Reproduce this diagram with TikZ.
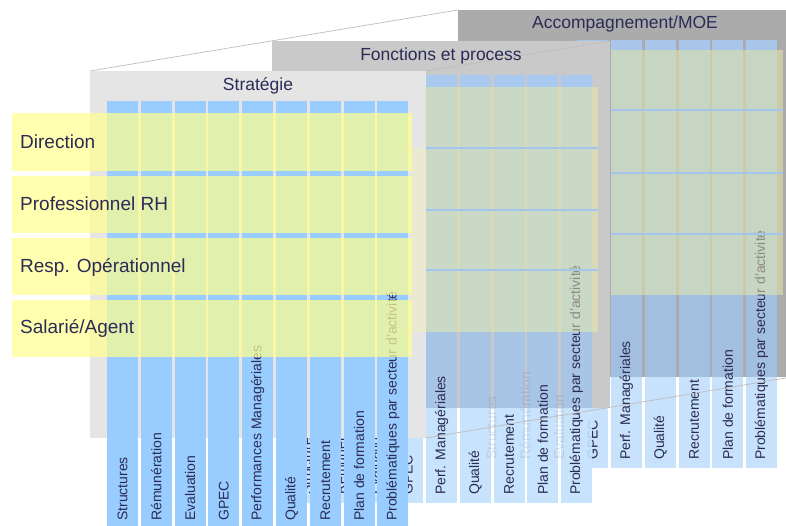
\documentclass[tikz,border=0pt]{standalone}
\usepackage{fontspec}
\setmainfont{Liberation Sans}
\definecolor{ink}{HTML}{2B2B55}
\definecolor{backgray}{HTML}{ABABAB}
\definecolor{bhead}{HTML}{A8C6EA}
\definecolor{bmid}{HTML}{A3BFE0}
\definecolor{blow}{HTML}{C8E2FB}
\definecolor{midgray}{HTML}{C9C9C9}
\definecolor{mhead}{HTML}{A9C9EE}
\definecolor{mmid}{HTML}{A9C5E6}
\definecolor{mlow}{HTML}{C8E3FC}
\definecolor{frontgray}{HTML}{E5E5E5}
\definecolor{fcol}{HTML}{99CCFF}
\definecolor{rowyellow}{HTML}{FFFF90}
\definecolor{dimyellow}{HTML}{ECECA8}
\definecolor{sepblue}{HTML}{A4C6EE}
\definecolor{beige}{HTML}{EBE9CF}
\definecolor{linegray}{HTML}{BDBDBD}
\begin{document}
\begin{tikzpicture}[x=1pt,y=-1pt,
  paneltitle/.style={inner sep=0pt,text=ink,font=\fontsize{17.5}{20}\selectfont},
  rowlabel/.style={anchor=west,inner sep=0pt,text=ink,font=\fontsize{19}{22}\selectfont},
  collabel/.style={rotate=90,anchor=west,inner sep=0pt,text=ink,font=\fontsize{14}{16}\selectfont},
  frontrow/.style={fill=rowyellow,fill opacity=0.72},
  backrow/.style={fill=dimyellow,fill opacity=0.5},
  sepline/.style={draw=sepblue,line width=1.5pt},
  persp/.style={draw=linegray,line width=0.7pt}]
\useasboundingbox (0,0) rectangle (786,526);
\clip (0,0) rectangle (786,526);

\coordinate (fTL) at (90,71);
\coordinate (bTL) at (458,10);
\coordinate (fTR) at (426,71);
\coordinate (mTR) at (610,41);
\coordinate (fBR) at (426,438);
\coordinate (bBR) at (786,378);

\draw[persp] (fTL) -- (bTL);

% ---------------- back panel: Accompagnement/MOE
\fill[backgray] (458,10) rectangle (800,377);
\node[paneltitle] (tB) at (625,24) {Accompagnement/MOE};
\foreach \i/\t in {3/GPEC,4/Perf. Managériales,5/Qualité,6/Recrutement,7/Plan de formation,8/Problématiques par secteur d'activité}{
  \pgfmathsetmacro\x{476+33.75*\i}
  \fill[bhead] (\x,40) rectangle (\x+31,50);
  \fill[bmid] (\x,50) rectangle (\x+31,377);
  \fill[blow] (\x,377) rectangle (\x+31,468);
  \node[collabel] (bl\i) at (\x+15.5,460) {\t};
}
\fill[backrow] (611,50) rectangle (783,295);
\foreach \y in {110,173,234}{\draw[sepline] (611,\y) -- (783,\y);}

% ---------------- middle panel: Fonctions et process
\fill[midgray] (272,41) rectangle (610,408);
\draw[persp] (fTR) -- (mTR);
\node[paneltitle] (tM) at (441,56) {Fonctions et process};
\foreach \i/\t in {0/Structures,1/Rémunération,2/Evaluation,3/GPEC,4/Perf. Managériales,5/Qualité,6/Recrutement,7/Plan de formation,8/Problématiques par secteur d'activité}{
  \pgfmathsetmacro\x{291.2+33.72*\i}
  \fill[mhead] (\x,75) rectangle (\x+31,87);
  \fill[mmid] (\x,87) rectangle (\x+31,408);
  \fill[mlow] (\x,408) rectangle (\x+31,503);
  \node[collabel] (ml\i) at (\x+15.5,495) {\t};
}
\fill[backrow] (426,87) rectangle (598,332);
\foreach \y in {148,210,270}{\draw[sepline] (426,\y) -- (598,\y);}
\foreach \i/\t in {0/Structures,1/Rémunération,2/Evaluation,3/GPEC}{
  \pgfmathsetmacro\x{476+33.75*\i}
  \node[collabel,text opacity=0.12] (bf\i) at (\x+15.5,460) {\t};
}
\draw[persp] (fBR) -- (bBR);

% ---------------- front panel: Stratégie
\fill[frontgray] (90,71) rectangle (426,438);
\node[paneltitle] (tF) at (258,86) {Stratégie};
\fill[beige] (412,148) rectangle (426,332);
\foreach \i/\t in {0/Structures,1/Rémunération,2/Evaluation,3/GPEC,4/Performances Managériales,5/Qualité,6/Recrutement,7/Plan de formation,8/Problématiques par secteur d'activité}{
  \pgfmathsetmacro\x{107+33.8*\i}
  \fill[fcol] (\x,101) rectangle (\x+31,540);
  \node[collabel] (fl\i) at (\x+15.5,521) {\t};
}
\foreach \a/\b in {113/171,176/233,238/295,300/357}{\fill[frontrow] (12,\a) rectangle (412,\b);}
\node[rowlabel] (r1) at (20,142) {Direction};
\node[rowlabel] (r2) at (20,204) {Professionnel RH};
\node[rowlabel] (r3) at (20,267) {Resp. Opérationnel};
\node[rowlabel] (r4) at (20,328) {Salarié/Agent};
\end{tikzpicture}
\end{document}
